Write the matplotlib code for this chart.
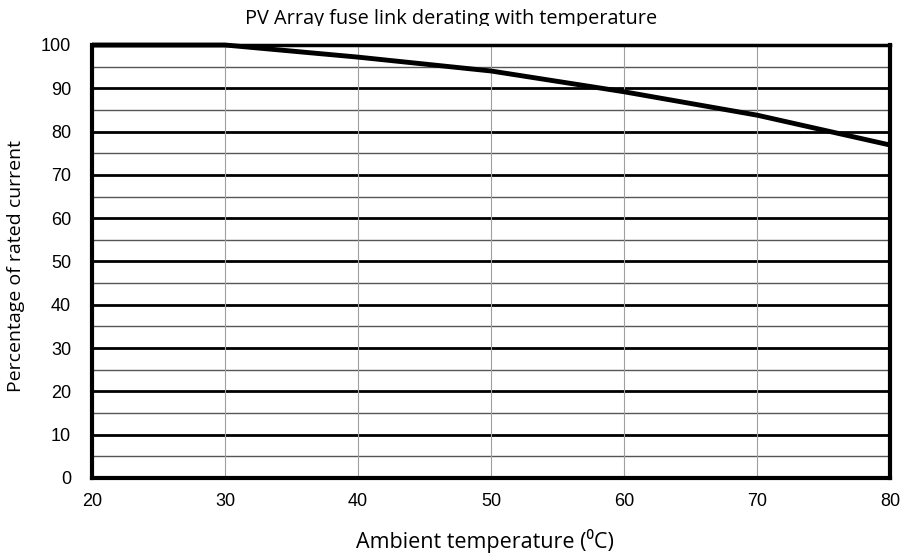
""" PV array fuse link derating chart. """

import matplotlib
matplotlib.use('Agg')
import matplotlib.pyplot as plt
from matplotlib.patches import Rectangle

""" Data """

temperature = [20, 30, 40, 50, 60, 70, 80]
rated_pct = [100, 100, 97.2, 94.0, 89.2, 83.8, 76.9]
x_ticks = [20, 30, 40, 50, 60, 70, 80]
y_ticks = [0, 10, 20, 30, 40, 50, 60, 70, 80, 90, 100]
y_minor = [5, 15, 25, 35, 45, 55, 65, 75, 85, 95]

""" Plot """

fig = plt.figure(figsize=(9.01, 5.56), dpi=100)
ax = fig.add_axes([92 / 901, 1 - 478 / 556, 798 / 901, 433 / 556])

ax.set_xlim(20, 80)
ax.set_ylim(0, 100)

# grid: thick major rows, thin minor rows, light columns
for y in y_ticks[1:-1]:
    ax.axhline(y, color='black', lw=2.0, zorder=1)
for y in y_minor:
    ax.axhline(y, color='#555555', lw=1.0, zorder=1)
for x in x_ticks[1:-1]:
    ax.axvline(x, color='#a0a0a0', lw=0.8, zorder=1)

ax.plot(temperature, rated_pct, color='black', lw=3.5, zorder=3,
        solid_capstyle='butt', clip_on=False)

for side in ['left', 'bottom', 'right']:
    ax.spines[side].set_linewidth(3)
ax.spines['top'].set_linewidth(2.5)

ax.set_xticks(x_ticks)
ax.set_yticks(y_ticks)
ax.tick_params(length=0, labelsize=13)
ax.tick_params(axis='x', pad=11)
ax.tick_params(axis='y', pad=15)
for lbl in ax.get_xticklabels() + ax.get_yticklabels():
    lbl.set_family('Liberation Sans')

fig.text(16 / 901, 1 - 266 / 556, 'Percentage of rated current', rotation=90,
         ha='center', va='center', fontsize=14, family='Open Sans')
fig.text(485 / 901, 1 - 541 / 556, 'Ambient temperature (\u2070C)',
         ha='center', va='center', fontsize=15.5, family='Open Sans')

title = fig.text(451 / 901, 1 - 24 / 556, 'PV Array fuse link derating with temperature',
                 ha='center', va='baseline', fontsize=14.3, family='Open Sans')
# the title is cut just under its baseline in the original
clip = Rectangle((0, 556 - 26), 901, 26, transform=None, visible=False)
fig.add_artist(clip)
title.set_clip_path(clip)

fig.savefig('out.png', dpi=100)
